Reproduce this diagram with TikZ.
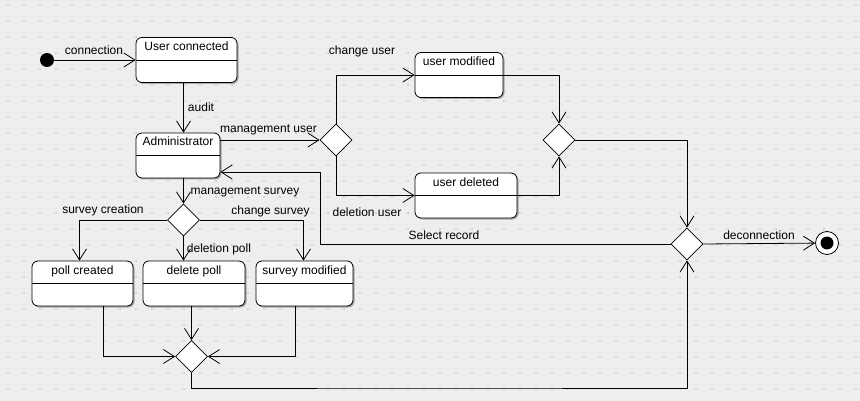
\documentclass[tikz,border=0pt]{standalone}
\usepackage{fontspec}
\setmainfont{Liberation Sans}
\usetikzlibrary{shapes.geometric, arrows.meta, shadows, positioning}

\definecolor{bggray}{HTML}{EEEEEE}
\definecolor{dotgray}{HTML}{D2D2D2}

\tikzset{
  state/.style={draw, fill=white, rounded corners=6pt, line width=0.8pt,
    inner xsep=0pt, inner ysep=0pt, text height=13pt, text depth=32pt,
    font=\fontsize{12pt}{14pt}\selectfont,
    drop shadow={shadow xshift=1.5pt, shadow yshift=-1.5pt, fill=black!35, opacity=1}},
  choice/.style={diamond, draw, fill=white, line width=0.8pt, aspect=1,
    minimum width=32pt, minimum height=32pt, inner sep=0pt},
  trans/.style={line width=0.8pt, -{Straight Barb[length=11pt,width=14pt]}},
  lbl/.style={inner sep=0pt, font=\fontsize{12pt}{14pt}\selectfont},
}

\begin{document}
\begin{tikzpicture}[x=1pt, y=-1pt]
        \useasboundingbox (0,0) rectangle (860,401);
        \fill[bggray] (0,0) rectangle (860,401);
        \foreach \i in {0,...,53}
            \foreach \j in {0,...,24}
                \fill[dotgray] (7+16*\i, 4+16*\j) rectangle ++(2,2);
        
        \node[circle, fill=black, minimum size=14pt, inner sep=0pt] (start) at (47,60) {};
        \node[state, minimum width=101pt] (uc) at (186.5,60) {User connected};
        \node[state, minimum width=84pt] (adm) at (178,155.5) {Administrator};
        \node[choice] (mu) at (336,140) {};
        \node[state, minimum width=88pt] (umod) at (459,75) {user modified};
        \node[state, minimum width=102pt] (udel) at (466,195.5) {user deleted};
        \node[choice] (mergeu) at (559,140) {};
        \node[choice] (exit) at (687,244) {};
        \node[circle, draw, fill=white, line width=0.8pt, minimum size=23pt, inner sep=0pt] (end) at (827,243) {};
        \node[circle, fill=black, minimum size=13pt, inner sep=0pt] (endin) at (end) {};
        \node[choice] (ms) at (183.5,220) {};
        \node[state, minimum width=101pt] (pc) at (82.5,283.5) {poll created};
        \node[state, minimum width=102pt] (dp) at (194,283.5) {delete poll};
        \node[state, minimum width=97pt] (sm) at (304.5,283.5) {survey modified};
        \node[choice] (mergep) at (191.5,356.5) {};
        
        \foreach \s in {uc,adm,umod,udel,pc,dp,sm}
            \draw[line width=0.8pt] (\s.west) -- (\s.east);
        
        \draw[trans] (start) -- (uc.west);
        \draw[trans] (uc.south -| ms) -- (adm.north -| ms);
        \draw[trans] (adm.east |- mu) -- (mu.west);
        \draw[trans] (mu.north) |- (umod.west);
        \draw[trans] (mu.south) |- (udel.west);
        \draw[trans] (umod.east) -| (mergeu.north);
        \draw[trans] (udel.east) -| (mergeu.south);
        \draw[trans] (mergeu.east) -| (exit.north);
        \draw[trans] (exit.east) -- (end);
        \coordinate (selc) at (320,172);
        \draw[trans] (exit.west) -| (selc) -- (adm.east |- selc);
        \draw[trans] (adm.south -| ms) -- (ms.north);
        \draw[trans] (ms.west) -| ([xshift=-3pt]pc.north);
        \draw[trans] (ms.south) -- (dp.north -| ms);
        \draw[trans] (ms.east) -| ([xshift=-1pt]sm.north);
        \draw[trans] ([xshift=21pt]pc.south) |- (mergep.west);
        \draw[trans] (dp.south -| mergep) -- (mergep.north);
        \draw[trans] ([xshift=-9pt]sm.south) |- (mergep.east);
        \coordinate (backc) at (440,388);
        \draw[trans] (mergep.south) |- (backc) -| (exit.south);
        
        \node[lbl] (lconn) at (94,50) {connection};
        \node[lbl] (laudit) at (201,107) {audit};
        \node[lbl] (lmu) at (268.5,130) {management user};
        \node[lbl] (lchu) at (362,51) {change user};
        \node[lbl] (ldelu) at (367,212) {deletion user};
        \node[lbl] (lms) at (245,192) {management survey};
        \node[lbl] (lsc) at (103,210) {survey creation};
        \node[lbl] (lchs) at (270.5,211) {change survey};
        \node[lbl] (ldelp) at (219,249) {deletion poll};
        \node[lbl] (lsel) at (444,235) {Select record};
        \node[lbl] (ldeco) at (759,235) {deconnection};
    \end{tikzpicture}
\end{document}
